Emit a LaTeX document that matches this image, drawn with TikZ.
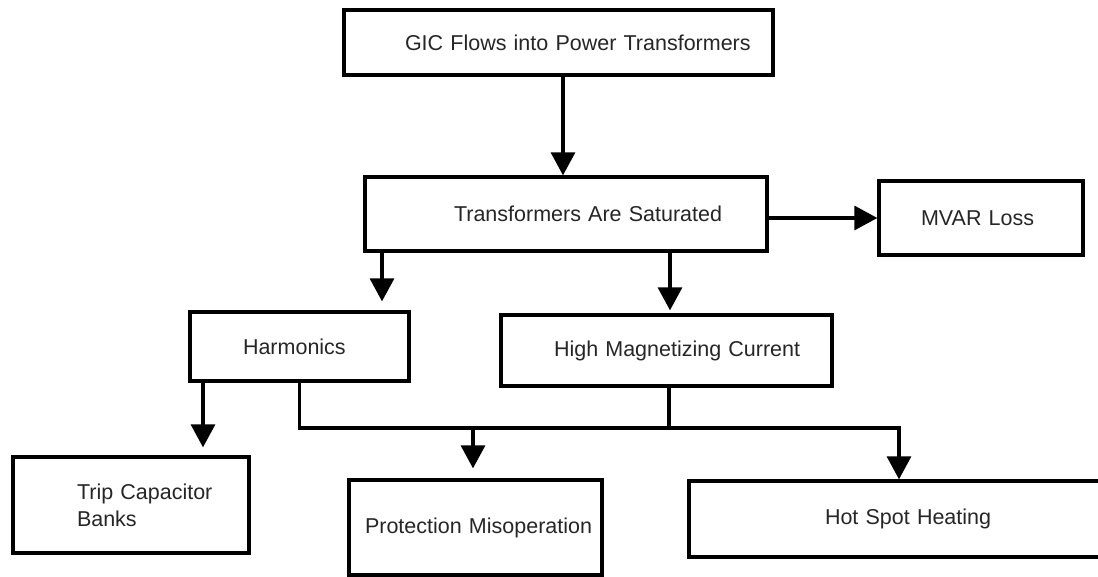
\documentclass[tikz,border=0pt]{standalone}
\usepackage{fontspec}
\setmainfont{Liberation Sans}
\usetikzlibrary{arrows.meta,calc}
\begin{document}
\begin{tikzpicture}[x=1pt,y=-1pt,
  bx/.style={draw=black,line width=3.3pt,inner sep=0pt,align=left,
    font=\fontsize{21.5}{27}\selectfont,text=black!85},
  ln/.style={line width=3.2pt,draw=black,line join=miter},
  arr/.style={ln,-{Triangle[width=24pt,length=23pt]}}]
\useasboundingbox (0,0) rectangle (1098,577);
\clip (0,0) rectangle (1098,577);
\fill[white] (0,0) rectangle (1098,577);
% boxes
\node[bx,minimum width=429pt,minimum height=65pt,text width=429pt] (gic) at (558.5,42.5)
  {\hspace*{61pt}GIC Flows into Power Transformers};
\node[bx,minimum width=402pt,minimum height=74pt,text width=402pt] (sat) at (566,214)
  {\hspace*{89pt}Transformers Are Saturated};
\node[bx,minimum width=204pt,minimum height=74pt,text width=204pt] (mvar) at (981,218)
  {\hspace*{42pt}MVAR Loss};
\node[bx,minimum width=219pt,minimum height=69pt,text width=219pt] (harm) at (299.5,346.5)
  {\hspace*{53pt}Harmonics\\[4pt]};
\node[bx,minimum width=331pt,minimum height=71pt,text width=331pt] (hmc) at (666.5,350.5)
  {\hspace*{53pt}High Magnetizing Current\\[2pt]};
\node[bx,minimum width=236pt,minimum height=96pt,text width=236pt] (trip) at (131,505)
  {\hspace*{64pt}Trip Capacitor\\\hspace*{64pt}Banks};
\node[bx,minimum width=253pt,minimum height=95pt,text width=253pt] (prot) at (475.5,527.5)
  {\hspace*{16pt}Protection Misoperation};
\node[bx,minimum width=413pt,minimum height=76pt,text width=413pt] (hot) at (895.5,519)
  {\hspace*{136pt}Hot Spot Heating\\[4pt]};
% connectors
\coordinate (bus) at (899,428);
\draw[arr] ([xshift=4.5pt]gic.south) -- ([xshift=4.5pt]gic.south |- sat.north);
\draw[arr] (sat.east |- mvar.west) -- (mvar.west);
\draw[arr,shorten >=9pt] ([xshift=-184pt]sat.south) -- ([xshift=-184pt]sat.south |- harm.north);
\draw[arr,shorten >=3pt] ([xshift=104pt]sat.south) -- ([xshift=104pt]sat.south |- hmc.north);
\draw[arr,shorten >=8pt] ([xshift=-96.5pt]harm.south) -- ([xshift=-96.5pt]harm.south |- trip.north);
\draw[arr] (harm.south) |- (bus) -- (bus |- hot.north);
\draw[ln] ([xshift=2.5pt]hmc.south) -- ([xshift=2.5pt]hmc.south |- bus);
\draw[arr,shorten >=10pt] ([xshift=-2.5pt]prot.north |- bus) -- ([xshift=-2.5pt]prot.north);
\end{tikzpicture}
\end{document}
